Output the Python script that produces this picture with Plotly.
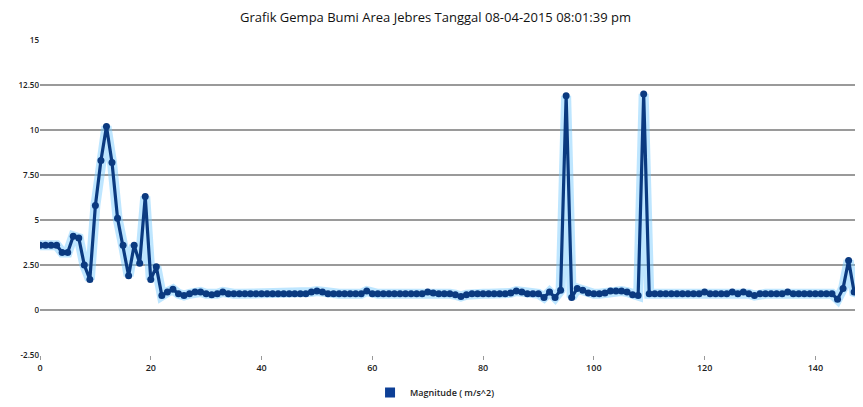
import plotly.graph_objects as go

title_text = "Grafik Gempa Bumi Area Jebres Tanggal 08-04-2015 08:01:39 pm"
series_name = "Magnitude ( m/s^2)"

magnitude = [
    3.6, 3.6, 3.6, 3.6, 3.2, 3.2, 4.1, 4.0, 2.5, 1.7,
    5.8, 8.3, 10.2, 8.2, 5.1, 3.6, 1.9, 3.6, 2.6, 6.3,
    1.7, 2.4, 0.8, 1.0, 1.15, 0.9, 0.8, 0.9, 1.0, 1.0,
    0.9, 0.85, 0.9, 1.0, 0.9, 0.9, 0.9, 0.9, 0.9, 0.9,
    0.9, 0.9, 0.9, 0.9, 0.9, 0.9, 0.9, 0.9, 0.9, 1.0,
    1.05, 1.0, 0.9, 0.9, 0.9, 0.9, 0.9, 0.9, 0.9, 1.05,
    0.9, 0.9, 0.9, 0.9, 0.9, 0.9, 0.9, 0.9, 0.9, 0.9,
    1.0, 0.95, 0.9, 0.9, 0.9, 0.85, 0.75, 0.85, 0.9, 0.9,
    0.9, 0.9, 0.9, 0.9, 0.9, 0.95, 1.05, 1.0, 0.9, 0.9,
    0.9, 0.7, 1.0, 0.7, 1.1, 11.9, 0.7, 1.2, 1.1, 0.95,
    0.9, 0.9, 0.95, 1.05, 1.05, 1.05, 1.0, 0.85, 0.8, 12.0,
    0.9, 0.9, 0.9, 0.9, 0.9, 0.9, 0.9, 0.9, 0.9, 0.9,
    1.0, 0.9, 0.9, 0.9, 0.9, 1.0, 0.9, 1.0, 0.9, 0.8,
    0.9, 0.9, 0.9, 0.9, 0.9, 1.0, 0.9, 0.9, 0.9, 0.9,
    0.9, 0.9, 0.9, 0.9, 0.6, 1.2, 2.75, 1.0, 0.9, -0.2,
]
sample_index = list(range(len(magnitude)))

y_tick_vals = [-2.5, 0, 2.5, 5, 7.5, 10, 12.5, 15]
y_tick_text = ["-2.50", "0", "2.50", "5", "7.50", "10", "12.50", "15"]
x_tick_vals = [0, 20, 40, 60, 80, 100, 120, 140]

line_color = "#0b3a80"

fig = go.Figure()
# soft glow underneath the line
fig.add_trace(go.Scatter(
    x=sample_index, y=magnitude, mode="lines",
    line=dict(color="rgba(110,200,255,0.45)", width=10),
    hoverinfo="skip", showlegend=False,
))
fig.add_trace(go.Scatter(
    x=sample_index, y=magnitude, mode="lines+markers",
    line=dict(color=line_color, width=3.2),
    marker=dict(color=line_color, size=7, symbol="circle"),
    name=series_name, showlegend=False,
))
# legend entry with square swatch
fig.add_trace(go.Scatter(
    x=[None], y=[None], mode="markers",
    marker=dict(color="#0d3f96", size=10, symbol="square"),
    name=series_name, showlegend=True,
))

# page body has an 8px default margin, so the figure is drawn 8px in
fig.update_layout(
    width=855, height=399,
    margin=dict(l=32, r=0, t=32, b=52),
    paper_bgcolor="white", plot_bgcolor="white",
    font=dict(family="Open Sans, sans-serif", color="#222"),
    title=dict(text=title_text, x=0.5, xanchor="center",
               y=1 - 9 / 399, yanchor="middle", yref="container",
               font=dict(size=13, color="#111")),
    legend=dict(orientation="h", x=0.48, xanchor="center", y=-0.12,
                yanchor="middle", font=dict(size=9, color="#222", weight=600),
                itemwidth=30),
    xaxis=dict(range=[0, 148.6], tickvals=x_tick_vals, showgrid=False,
               zeroline=False, showline=False, ticks="outside",
               ticklen=4, tickcolor="#999",
               tickfont=dict(size=9, color="#222", weight=600)),
    yaxis=dict(range=[-2.5, 15], tickvals=y_tick_vals, ticktext=y_tick_text,
               showgrid=True, gridcolor="#9a9a9a", gridwidth=1.5,
               zeroline=False, showline=False, ticks="",
               tickfont=dict(size=8, color="#222", weight=600)),
)

fig.write_html("out.html")
